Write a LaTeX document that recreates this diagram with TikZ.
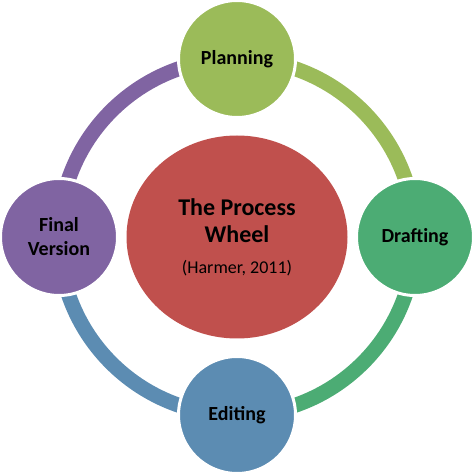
\documentclass[tikz,border=0pt]{standalone}
\usepackage{fontspec}
\setmainfont{Carlito}
\usetikzlibrary{shapes.geometric,backgrounds,calc}
\definecolor{cplan}{RGB}{155,187,89}
\definecolor{cdraft}{RGB}{76,172,116}
\definecolor{cedit}{RGB}{92,140,178}
\definecolor{cfinal}{RGB}{128,100,162}
\definecolor{cwheel}{RGB}{192,80,77}

\begin{document}
\begin{tikzpicture}[x=1pt,y=1pt,
stage/.style={circle,draw=white,line width=3pt,minimum size=117pt,inner sep=0pt,
align=center,font=\fontsize{20}{24}\selectfont\bfseries},
ring/.style={line width=15pt}]
\useasboundingbox (0,0) rectangle (474,474);
\node[ellipse,fill=cwheel,minimum width=221pt,minimum height=203pt] (wheel) at (237,237) {};
\node[align=center,font=\fontsize{24}{27}\selectfont\bfseries] (title) at (237,253) {The Process\\Wheel};
\node[font=\fontsize{18}{22}\selectfont] (ref) at (237,206) {(Harmer, 2011)};
\foreach \a/\n/\t/\c in {90/plan/Planning/cplan,0/draft/Drafting/cdraft,
	-90/edit/Editing/cedit,180/final/{Final\\Version}/cfinal}
	\node[stage,fill=\c] (\n) at ($(wheel.center)+(\a:178)$) {\t};
% ring between the stages
\begin{scope}[on background layer]
\foreach \s/\a/\c in {plan/90/cplan,draft/0/cdraft,edit/-90/cedit,final/180/cfinal}
	\draw[ring,\c] (\s.center) arc[start angle=\a,delta angle=-90,radius=178pt];
\end{scope}
\end{tikzpicture}
\end{document}
